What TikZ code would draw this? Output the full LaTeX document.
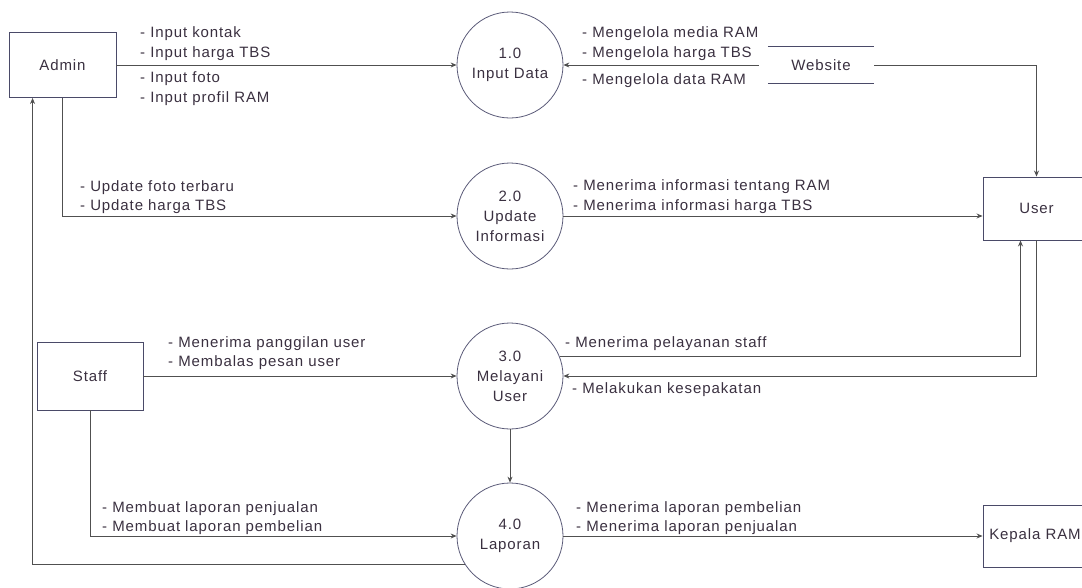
\documentclass[tikz,border=0pt]{standalone}
\usepackage{fontspec}
\setmainfont{Liberation Sans}[LetterSpace=6]
\usetikzlibrary{arrows.meta}
\definecolor{linec}{HTML}{505050}
\definecolor{boxc}{HTML}{4A4A68}
\definecolor{circc}{HTML}{5A5A78}
\definecolor{txtc}{HTML}{3A3040}
\tikzset{
  every node/.style={font=\fontsize{15}{20}\selectfont, text=txtc},
  entity/.style={draw=boxc, line width=0.9pt, minimum width=107pt, minimum height=65pt, inner sep=0pt},
  proc/.style={circle, draw=circc, line width=0.8pt, minimum size=106pt, inner sep=0pt, align=center},
  flow/.style={draw=linec, line width=0.8pt, -{Stealth[length=6pt,width=5pt]}},
  plain/.style={draw=linec, line width=0.8pt},
  lab/.style={anchor=base west, inner sep=0pt}
}
\begin{document}
\begin{tikzpicture}[x=1pt,y=-1pt]
\useasboundingbox (0,0) rectangle (1082,587);
% entities
\node[entity] (admin) at (62.5,65) {Admin};
\node[entity, minimum height=63pt] (user) at (1036.5,208.5) {User};
\node[entity, minimum width=106pt, minimum height=68pt] (staff) at (90,376) {Staff};
\node[entity, minimum width=104pt, minimum height=62pt] (kepala) at (1035,536) {Kepala RAM};
% data store
\node[minimum width=106pt, minimum height=36pt, inner sep=0pt] (ws) at (821,65) {Website};
\draw[draw=boxc, line width=0.9pt] (ws.north west) -- (ws.north east);
\draw[draw=boxc, line width=0.9pt] (ws.south west) -- (ws.south east);
% processes
\node[proc] (c1) at (510,65) {1.0\\Input Data};
\node[proc] (c2) at (510,216) {2.0\\Update\\Informasi};
\node[proc] (c3) at (510,376) {3.0\\Melayani\\User};
\node[proc] (c4) at (510,536) {4.0\\Laporan};
% connectors
\draw[flow] (admin.east) -- (c1.west);
\draw[flow] ([xshift=-9pt]ws.west) -- (c1.east);
\draw[flow] (ws.east) -| (user.north);
\draw[flow] (admin.south) |- (c2.west);
\draw[flow] (c2.east) -- (c2.east -| user.west);
\draw[flow] (staff.east) -- (c3.west);
\draw[flow] (staff.south) |- (c4.west);
\draw[flow] (c3.south) -- (c4.north);
\draw[flow] (c4.east) -- (c4.east -| kepala.west);
\coordinate (adminret) at ([xshift=24pt]admin.south west);
\draw[flow] (c4.212) -| (adminret);
\coordinate (userin) at ([xshift=-16pt]user.south);
\draw[flow] (c3.21) -| (userin);
\draw[flow] (user.south) |- (c3.east);
% labels
\node[lab] (la1) at (140,37) {- Input kontak};
\node[lab] (la2) at (140,57) {- Input harga TBS};
\node[lab] (la3) at (140,82) {- Input foto};
\node[lab] (la4) at (140,102) {- Input profil RAM};
\node[lab] (lw1) at (582,37) {- Mengelola media RAM};
\node[lab] (lw2) at (582,57) {- Mengelola harga TBS};
\node[lab] (lw3) at (582,84) {- Mengelola data RAM};
\node[lab] (lu1) at (80,191) {- Update foto terbaru};
\node[lab] (lu2) at (80,210) {- Update harga TBS};
\node[lab] (li1) at (573,190) {- Menerima informasi tentang RAM};
\node[lab] (li2) at (573,210) {- Menerima informasi harga TBS};
\node[lab] (ls1) at (168,347) {- Menerima panggilan user};
\node[lab] (ls2) at (168,366) {- Membalas pesan user};
\node[lab] (lp1) at (565,347) {- Menerima pelayanan staff};
\node[lab] (lk1) at (572,393) {- Melakukan kesepakatan};
\node[lab] (lm1) at (102,512) {- Membuat laporan penjualan};
\node[lab] (lm2) at (102,531) {- Membuat laporan pembelian};
\node[lab] (lr1) at (576,512) {- Menerima laporan pembelian};
\node[lab] (lr2) at (576,531) {- Menerima laporan penjualan};
\end{tikzpicture}
\end{document}
